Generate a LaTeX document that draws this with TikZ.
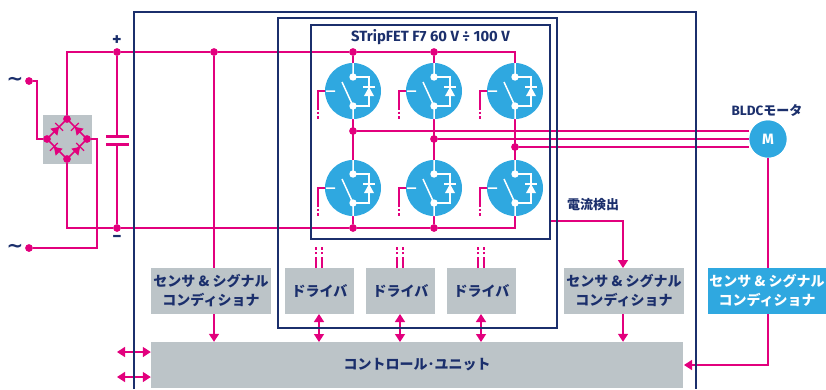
\documentclass[tikz,border=0pt]{standalone}
\usepackage{fontspec}
\usetikzlibrary{arrows.meta,calc}
\newfontfamily\jpf{Noto Sans CJK JP}
\newfontfamily\latf{Fira Sans}
\newfontfamily\symf{DejaVu Sans}
\definecolor{pk}{HTML}{E2007D}
\definecolor{nv}{HTML}{1B2F6C}
\definecolor{gy}{HTML}{BCC4C8}
\definecolor{bl}{HTML}{2FA8E0}
\tikzset{
  wire/.style={draw=pk,line width=1.5pt},
  arr/.style={wire,-{Triangle[length=8pt,width=10pt]}},
  darr/.style={wire,{Triangle[length=8pt,width=10pt]}-{Triangle[length=8pt,width=10pt]}},
  dots/.style={draw=pk,line width=1.5pt,dash pattern=on 2.5pt off 2.2pt},
  frame/.style={draw=nv,line width=1.5pt},
  jct/.style={circle,fill=pk,inner sep=0pt,minimum size=7.5pt},
  graybox/.style={fill=gy,inner sep=0pt,text=nv,align=center,font=\jpf\bfseries\fontsize{14}{19}\selectfont},
  bluebox/.style={graybox,fill=bl,text=white},
  fetc/.style={circle,fill=bl,inner sep=0pt,minimum size=56pt},
  lbl/.style={text=nv,inner sep=0pt,font=\jpf\bfseries\fontsize{13}{15}\selectfont},
  fetsym/.pic={
    \draw[white,line width=1.5pt] (0,-28)--(0,-14) (0,15)--(0,28) (-27,0)--(-18,0) (-11,-9)--(0,15);
    \draw[white,line width=1.5pt] (0,-14)-|(16,15)--(0,15);
    \draw[white,line width=1.5pt] (10,-4)--(22,-4);
    \fill[white] (11,5)--(21,5)--(16,-4)--cycle;
    \fill[white] (0,-14) circle (3.7) (0,15) circle (3.7);
  },
  brd/.pic={
    \fill[pk] (-4.5,-5)--(-4.5,5)--(3,0)--cycle;
    \draw[pk,line width=1.3pt] (3,-5.5)--(3,5.5);
  },
}
\begin{document}
\begin{tikzpicture}[x=1pt,y=-1pt]
\useasboundingbox (0,0) rectangle (826,389);
% boxes
\node[graybox,minimum width=49pt,minimum height=49pt] (brbox) at (67.5,139.5) {};
\node[graybox,minimum width=120pt,minimum height=46pt] (s1) at (211,291) {センサ \& シグナル\\コンディショナ};
\node[graybox,minimum width=69pt,minimum height=46pt] (d1) at (319.5,291) {ドライバ};
\node[graybox,minimum width=69pt,minimum height=46pt] (d2) at (400.5,291) {ドライバ};
\node[graybox,minimum width=69pt,minimum height=46pt] (d3) at (481.5,291) {ドライバ};
\node[graybox,minimum width=120pt,minimum height=46pt] (s2) at (624,291) {センサ \& シグナル\\コンディショナ};
\node[bluebox,minimum width=118pt,minimum height=46pt] (s3) at (767,291) {センサ \& シグナル\\コンディショナ};
\node[graybox,minimum width=532pt,minimum height=46pt] (cu) at (417,365) {コントロール･ユニット};
% junctions
\node[jct] (acA) at (29,81) {};
\node[jct] (acB) at (29,248) {};
\node[jct] (brT) at (67,119) {};
\node[jct] (brL) at (47,139) {};
\node[jct] (brR) at (87,139) {};
\node[jct] (brB) at (67,159) {};
\node[jct] (jp1) at (117,52) {};
\node[jct] (jp2) at (214,52) {};
\node[jct] (jp3) at (353,52) {};
\node[jct] (jp4) at (434,52) {};
\node[jct] (jn1) at (117,228) {};
\node[jct] (jn2) at (353,228) {};
\node[jct] (jn3) at (434,228) {};
\node[jct] (ph1) at (353,131) {};
\node[jct] (ph2) at (434,139) {};
\node[jct] (ph3) at (515,147) {};
\coordinate (cs) at (550,221);
\coordinate (s2x) at (623,268);
\coordinate (cpT) at (117,136.5);
\coordinate (cpB) at (117,144);
\coordinate (tapA) at (247,228);
\coordinate (tapB) at (270,228);
% wires
\draw[wire] (acA) -| (37,139) -- (brL);
\draw[wire] (acB) -| (97,139) -- (brR);
\draw[wire] (brT) |- (jp1) -- (jp2) -- (jp3) -- (jp4) -| (515,63);
\draw[wire] (brB) |- (jn1) -- (jn2) -- (jn3) -| (515,216);
\draw[wire] (jp1) -- (cpT);
\draw[wire] (cpB) -- (jn1);
\draw[pk,line width=3pt] (106,136.5) -- (129,136.5) (106,144) -- (129,144);
\draw[pk,line width=2.4pt] (tapA) -- (tapB);
\draw[wire] (brL.center) -- (brT.center) -- (brR.center) -- (brB.center) -- cycle;
\draw[wire] (jp3) -- (jn2);
\draw[wire] (jp4) -- (jn3);
\draw[wire] (515,52) -- (515,228);
\draw[wire] (jp2) -- (jp2 |- s1.north);
\draw[arr] (jp2 |- s1.south) -- (jp2 |- cu.north);
\draw[arr] (cs) -| (s2x);
\draw[arr] (s2x |- s2.south) -- (s2x |- cu.north);
\foreach \c in {319,400,481}{
  \draw[darr] (\c,314) -- (\c,342);
  \draw[wire] (\c-3,268) -- (\c-3,259) (\c+3,268) -- (\c+3,259);
  \draw[dots] (\c-3,259) -- (\c-3,245) (\c+3,259) -- (\c+3,245);
}
\draw[darr] (117,352) -- (cu.west |- 0,352);
\draw[darr] (117,377) -- (cu.west |- 0,377);
% motor
\node[fetc,minimum size=37pt,text=white,font=\latf\bfseries\fontsize{15}{15}\selectfont] (mot) at (768,139) {M};
\draw[wire] (ph1) -- (ph1 -| mot.west);
\draw[wire] (ph2) -- (mot.west);
\draw[wire] (ph3) -- (ph3 -| mot.west);
\draw[wire] (mot.south) -- (mot.south |- s3.north);
\draw[arr] (mot.south |- s3.south) |- (684,365);
\node[fetc,minimum size=37pt,text=white,font=\latf\bfseries\fontsize{15}{15}\selectfont] (motb) at (768,139) {M};
% fets
\foreach \nm/\x/\y in {q1/353/91,q2/434/91,q3/515/91,q4/353/188,q5/434/188,q6/515/188}{
  \node[fetc] (\nm) at (\x,\y) {};
  \pic at (\nm) {fetsym};
  \draw[wire] (\nm.west) -- ++(-7,0) -- ++(0,16);
  \draw[dots] (\nm.west) ++(-7,16) -- ++(0,12);
}
% bridge diodes
\pic[rotate=45] at (57,129) {brd};
\pic[rotate=135] at (77,129) {brd};
\pic[rotate=135] at (56,149) {brd};
\pic[rotate=45] at (78,149) {brd};
% junctions on top
\foreach \j in {jp1,jp2,jp3,jp4,jn1,jn2,jn3,ph1,ph2,ph3,brT,brL,brR,brB,acA,acB}{\fill[pk] (\j) circle (3.7);}
% frames
\draw[frame] (134,389) -- (134,12) -- (696,12) -- (696,389);
\draw[frame] (278,18) rectangle (557,328);
\draw[frame] (311,25) rectangle (550,239);
% labels
\node[text=nv,font=\symf\bfseries\fontsize{20}{20}\selectfont,inner sep=0pt] (t1) at (15,81) {∼};
\node[text=nv,font=\symf\bfseries\fontsize{20}{20}\selectfont,inner sep=0pt] (t2) at (15,248) {∼};
\node[text=nv,font=\latf\bfseries\fontsize{18}{18}\selectfont,inner sep=0pt] (plus) at (117,41) {+};
\node[text=nv,font=\latf\bfseries\fontsize{18}{18}\selectfont,inner sep=0pt] (minus) at (117,239) {−};
\node[lbl,font=\latf\bfseries\fontsize{14.8}{16}\selectfont] (title) at (430.5,37) {STripFET F7 60 V ÷ 100 V};
\node[lbl] (cur) at (593,205) {電流検出};
\node[lbl] (bldc) at (767,110) {{\latf\bfseries\fontsize{13.5}{15}\selectfont BLDC}モータ};
\end{tikzpicture}
\end{document}
